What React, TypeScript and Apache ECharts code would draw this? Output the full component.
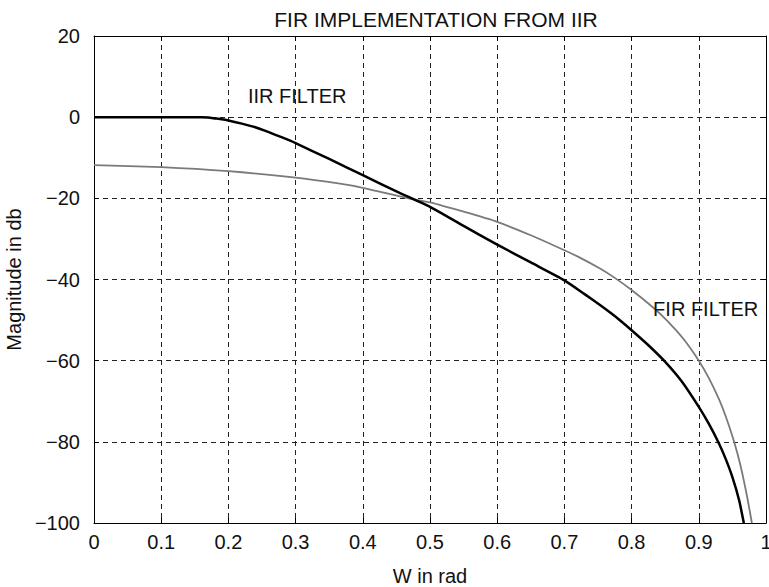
import React, { useEffect, useRef } from "react";
import * as echarts from "echarts";

const chartTitle = "FIR IMPLEMENTATION FROM IIR";
const xName = "W in rad";
const yName = "Magnitude in db";

const xTickLabels = ["0", "0.1", "0.2", "0.3", "0.4", "0.5", "0.6", "0.7", "0.8", "0.9", "1"];
const yTickLabels = ["\u2212100", "\u221280", "\u221260", "\u221240", "\u221220", "0", "20"];

const iirW = [0, 0.05, 0.1, 0.15, 0.16, 0.17, 0.18, 0.19, 0.2, 0.22, 0.24, 0.26, 0.28, 0.3, 0.35, 0.4, 0.45, 0.5, 0.55, 0.6, 0.65, 0.7, 0.73, 0.753, 0.77, 0.783, 0.8, 0.825, 0.85, 0.875, 0.9, 0.915, 0.93, 0.94, 0.95, 0.96, 0.967];
const iirDb = [0, 0, 0, 0, 0, -0.1, -0.3, -0.5, -0.8, -1.6, -2.5, -3.7, -5.0, -6.4, -10.3, -14.3, -18.3, -22.1, -26.8, -31.4, -35.8, -40.2, -43.6, -46.3, -48.4, -50.1, -52.5, -56.2, -60.3, -65.2, -71.4, -75.6, -80.4, -84.2, -88.7, -94.4, -100];

const firW = [0, 0.1, 0.2, 0.3, 0.366, 0.4, 0.468, 0.5, 0.55, 0.6, 0.65, 0.7, 0.723, 0.753, 0.775, 0.8, 0.832, 0.852, 0.877, 0.9, 0.915, 0.93, 0.94, 0.95, 0.958, 0.965, 0.972, 0.979];
const firDb = [-11.8, -12.3, -13.3, -14.9, -16.4, -17.4, -20, -21, -23.3, -25.8, -29.1, -32.8, -34.6, -37.3, -39.6, -42.6, -46.9, -50.0, -54.6, -60, -64.3, -69.5, -73.7, -78.6, -83.2, -88, -93.6, -100];

const iirLabel = { text: "IIR FILTER", w: 0.229, db: 5.2 };
const firLabel = { text: "FIR FILTER", w: 0.832, db: -47.3 };

const FONT = "Liberation Sans, Arial, Helvetica, sans-serif";

export default function App() {
  const ref = useRef<HTMLDivElement>(null);
  useEffect(() => {
    if (!ref.current) return;
    const chart = echarts.init(ref.current, undefined, { renderer: "svg" });
    const iirData = iirW.map((w, i) => [w, iirDb[i]]);
    const firData = firW.map((w, i) => [w, firDb[i]]);
    const textStyle = { fontFamily: FONT, fontSize: 20, color: "#111" };
    const splitLine = { show: true, lineStyle: { color: "#222", width: 1, type: [5, 4] as any } };
    const axisLine = { show: true, onZero: false, lineStyle: { color: "#000", width: 1 } };
    const axisTick = { show: true, inside: true, length: 5, lineStyle: { color: "#000" } };
    chart.setOption({
      animation: false,
      backgroundColor: "#fff",
      textStyle: { fontFamily: FONT },
      title: {
        text: chartTitle,
        left: 431,
        top: 4,
        textAlign: "center",
        textStyle: { ...textStyle, fontWeight: "normal", fontSize: 21 },
      },
      grid: { left: 94, right: 3, top: 36, bottom: 64, containLabel: false, outerBoundsMode: "none" },
      xAxis: [
        {
          type: "value",
          min: 0,
          max: 1,
          interval: 0.1,
          position: "bottom",
          name: xName,
          nameLocation: "middle",
          nameGap: 43,
          nameTextStyle: textStyle,
          axisLine,
          axisTick,
          axisLabel: {
            ...textStyle,
            margin: 9,
            formatter: (_v: number, i: number) => xTickLabels[i],
          },
          splitLine,
        },
        {
          type: "value",
          min: 0,
          max: 1,
          interval: 0.1,
          position: "top",
          axisLine,
          axisTick,
          axisLabel: { show: false },
          splitLine: { show: false },
        },
      ],
      yAxis: [
        {
          type: "value",
          min: -100,
          max: 20,
          interval: 20,
          position: "left",
          name: yName,
          nameLocation: "middle",
          nameGap: 68,
          nameTextStyle: textStyle,
          axisLine,
          axisTick,
          axisLabel: {
            ...textStyle,
            margin: 14,
            formatter: (_v: number, i: number) => yTickLabels[i],
          },
          splitLine,
        },
        {
          type: "value",
          min: -100,
          max: 20,
          interval: 20,
          position: "right",
          axisLine,
          axisTick,
          axisLabel: { show: false },
          splitLine: { show: false },
        },
      ],
      series: [
        {
          name: "FIR",
          type: "line",
          data: firData,
          showSymbol: false,
          smooth: 0.2,
          lineStyle: { color: "#7a7a7a", width: 1.8, join: "round" },
          z: 3,
          markPoint: {
            symbol: "circle",
            symbolSize: 0,
            data: [
              {
                coord: [firLabel.w, firLabel.db],
                label: {
                  show: true,
                  position: "right",
                  distance: 0,
                  formatter: firLabel.text,
                  ...textStyle,
                },
              },
            ],
          },
        },
        {
          name: "IIR",
          type: "line",
          data: iirData,
          showSymbol: false,
          smooth: 0.2,
          lineStyle: { color: "#000", width: 2.5, join: "round" },
          z: 4,
          markPoint: {
            symbol: "circle",
            symbolSize: 0,
            data: [
              {
                coord: [iirLabel.w, iirLabel.db],
                label: {
                  show: true,
                  position: "right",
                  distance: 0,
                  formatter: iirLabel.text,
                  ...textStyle,
                },
              },
            ],
          },
        },
      ],
    });
    return () => chart.dispose();
  }, []);
  return <div ref={ref} style={{ width: 769, height: 587, position: "absolute", left: 0, top: 0 }} />;
}
